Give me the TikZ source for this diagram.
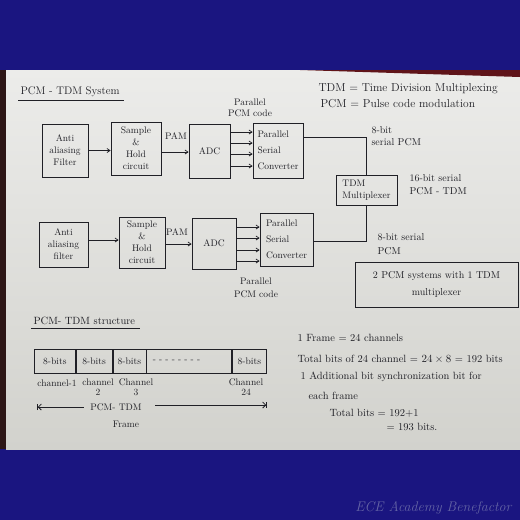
\documentclass[tikz,border=0pt]{standalone}
\usetikzlibrary{arrows.meta,calc}
\definecolor{bgblue}{RGB}{26,21,128}
\definecolor{papertop}{RGB}{236,236,234}
\definecolor{paperbot}{RGB}{210,210,205}
\definecolor{ink}{RGB}{32,32,38}
\definecolor{wm}{RGB}{100,100,165}
\definecolor{edge}{RGB}{45,22,22}
\definecolor{shadow}{RGB}{95,20,25}
\begin{document}
\begin{tikzpicture}[x=1pt,y=-1pt,
  every node/.style={text=ink, font=\fontsize{9.5}{12}\selectfont},
  blk/.style={draw=ink, line width=0.75pt, inner sep=1pt, align=center},
  lblk/.style={draw=ink, line width=0.75pt, inner sep=4pt, align=left},
  wire/.style={draw=ink, line width=0.75pt},
  arr/.style={draw=ink, line width=0.75pt, -{Straight Barb[length=3pt,width=4pt]}},
  cell/.style={draw=ink, line width=0.75pt, minimum height=24pt, inner sep=0pt, anchor=west},
  txt/.style={anchor=west, font=\fontsize{10.5}{12}\selectfont},
  head/.style={anchor=west, font=\fontsize{11}{13}\selectfont}]
\useasboundingbox (0,0) rectangle (520,520);
% background
\fill[bgblue] (0,0) rectangle (520,520);
\shade[top color=papertop, bottom color=paperbot] (6,70) rectangle (520,449);
\fill[edge] (0,70) rectangle (6,449);
\fill[shadow] (300,70) -- (520,70) -- (520,77) -- cycle;

% titles
\node[head] (t1) at (17,92) {PCM - TDM System};
\draw[wire] (t1.south west) ++(1,0) -- ([xshift=1pt]t1.south east);
\node[head, font=\fontsize{11.5}{13}\selectfont] (def1) at (315,89) {TDM = Time Division Multiplexing};
\node[head, font=\fontsize{11.5}{13}\selectfont] (def2) at (317,104) {PCM = Pulse code modulation};

% row 1
\node[blk, minimum width=46pt, minimum height=53pt] (aaf1) at (65,150.5) {Anti\\aliasing\\Filter};
\node[blk, minimum width=50pt, minimum height=53pt] (sh1) at (136,148.5) {Sample\\\&\\Hold\\circuit};
\node[blk, minimum width=41pt, minimum height=54pt] (adc1) at (209.5,151) {ADC};
\node[lblk, minimum width=50pt, minimum height=55pt, font=\fontsize{9.5}{16}\selectfont] (psc1) at (278,150.5) {Parallel\\Serial\\Converter};
\node[align=center, font=\fontsize{9.5}{11}\selectfont] (ppc1) at (250,108) {Parallel\\PCM code};
\node (pam1) at (176,136) {PAM};

\draw[arr] (aaf1.east) -- (aaf1.east -| sh1.west);
\draw[arr] (sh1.east |- 0,152) -- (adc1.west |- 0,152);
\foreach \yy in {132,143,154,166}
  \draw[arr] (adc1.east |- 0,\yy) -- (psc1.west |- 0,\yy);

% TDM multiplexer
\node[lblk, minimum width=61pt, minimum height=30pt, inner sep=3pt, font=\fontsize{9.5}{12}\selectfont] (tdm) at (366.5,190) {TDM\\Multiplexer};
\draw[wire] (psc1.east |- 0,137) -| (tdm.north);
\node[align=left, anchor=west, font=\fontsize{10}{12}\selectfont] (l8a) at (368,136) {8-bit\\serial PCM};
\node[align=left, anchor=west, font=\fontsize{10}{13}\selectfont] (l16) at (406,185) {16-bit serial\\PCM - TDM};

% row 2
\node[blk, minimum width=49pt, minimum height=45pt] (aaf2) at (63.5,244.5) {Anti\\aliasing\\filter};
\node[blk, minimum width=46pt, minimum height=51pt] (sh2) at (142,242.5) {Sample\\\&\\Hold\\circuit};
\node[blk, minimum width=44pt, minimum height=51pt] (adc2) at (214,243.5) {ADC};
\node[lblk, minimum width=53pt, minimum height=53pt, font=\fontsize{9.5}{16}\selectfont] (psc2) at (286.5,239.5) {Parallel\\Serial\\Converter};
\node[align=center, font=\fontsize{9.5}{13}\selectfont] (ppc2) at (256,288) {Parallel\\PCM code};
\node (pam2) at (177,232) {PAM};

\draw[arr] (aaf2.east |- 0,240) -- (sh2.west |- 0,240);
\draw[arr] (sh2.east |- 0,244) -- (adc2.west |- 0,244);
\foreach \yy in {227,238,250,261}
  \draw[arr] (adc2.east |- 0,\yy) -- (psc2.west |- 0,\yy);
\draw[wire] (tdm.south) |- (psc2.east |- 0,241);
\node[align=left, anchor=west, font=\fontsize{10}{14}\selectfont] (l8b) at (374,244) {8-bit serial\\PCM};

% note
\node[blk, minimum width=163pt, minimum height=45pt, font=\fontsize{10}{17}\selectfont] (note) at (436.5,284.5) {2 PCM systems with 1 TDM\\multiplexer};

% structure
\node[head, font=\fontsize{10.5}{13}\selectfont] (t2) at (30,321) {PCM- TDM structure};
\draw[wire] (t2.south west) ++(1,0) -- ([xshift=1pt]t2.south east);

\node[cell, minimum width=41pt] (c1) at (34,361) {8-bits};
\node[cell, minimum width=36pt] (c2) at (c1.east) {8-bits};
\node[cell, minimum width=33pt] (c3) at (c2.east) {8-bits};
\node[cell, minimum width=85pt] (cd) at (c3.east) {};
\node[cell, minimum width=34pt] (c24) at (cd.east) {8-bits};
\node[anchor=west] (dots) at ([xshift=3pt]cd.west) {- - - - - - - -};

\node (ch1) at (57,383) {channel-1};
\node[align=center, font=\fontsize{9.5}{10}\selectfont] (ch2) at (98,387) {channel\\2};
\node[align=center, font=\fontsize{9.5}{10}\selectfont] (ch3) at (136,387) {Channel\\3};
\node[align=center, font=\fontsize{9.5}{10}\selectfont] (ch24) at (246,387) {Channel\\24};

\node (fr) at (116,407) {PCM- TDM};
\node (frm) at (126,424) {Frame};
\coordinate (fl) at (37,407);
\coordinate (frr) at (267,405);
\draw[wire, {Bar[width=6pt]Straight Barb[length=3pt,width=6pt]}-] (fl) -- ([xshift=-3pt]fr.west);
\draw[wire, -{Straight Barb[length=3pt,width=6pt]Bar[width=6pt]}] ([xshift=10pt]fr.east |- frr) -- (frr);

% calculations
\node[txt] (e1) at (294,338) {1 Frame = 24 channels};
\node[txt] (e2) at (294,359) {Total bits of 24 channel = $24\times8$ = 192 bits};
\node[txt] (e3) at (297,377) {1 Additional bit synchronization bit for};
\node[txt] (e4) at (305,396) {each frame};
\node[txt] (e5) at (326,413) {Total bits = 192+1};
\node[txt] (e6) at (383,427) {= 193 bits.};

% watermark
\node[anchor=east, text=wm, font=\itshape\fontsize{14}{16}\selectfont] (wmk) at (515,508) {ECE Academy Benefactor};
\end{tikzpicture}
\end{document}
